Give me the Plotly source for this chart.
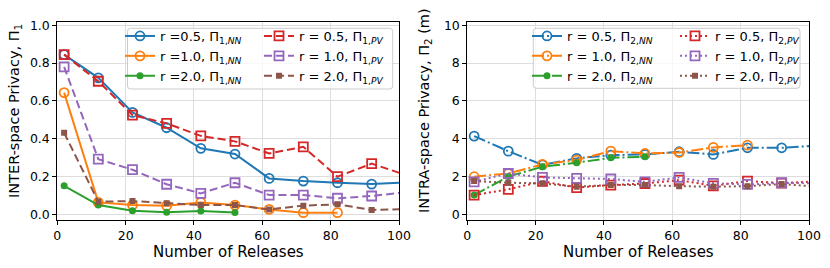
import plotly.graph_objects as go

W, H = 830, 268

# ---------------- data ----------------
releases = [2, 12, 22, 32, 42, 52, 62, 72, 82, 92, 102]

inter_nn_05 = [0.845, 0.722, 0.539, 0.458, 0.349, 0.319, 0.190, 0.176, 0.167, 0.160, 0.169]
inter_nn_10 = [0.644, 0.063, 0.049, 0.046, 0.063, 0.049, 0.026, 0.009, 0.009]
inter_nn_20 = [0.151, 0.049, 0.019, 0.011, 0.017, 0.010]
inter_pv_05 = [0.845, 0.704, 0.525, 0.481, 0.415, 0.386, 0.322, 0.357, 0.199, 0.268, 0.208]
inter_pv_10 = [0.780, 0.292, 0.236, 0.159, 0.111, 0.167, 0.102, 0.102, 0.085, 0.097, 0.117]
inter_pv_20 = [0.431, 0.067, 0.070, 0.058, 0.049, 0.049, 0.026, 0.046, 0.053, 0.023, 0.028]

intra_nn_05 = [4.14, 3.34, 2.62, 2.96, 3.13, 3.17, 3.31, 3.17, 3.52, 3.52, 3.63]
intra_nn_10 = [1.99, 2.16, 2.64, 2.87, 3.34, 3.22, 3.27, 3.54, 3.66]
intra_nn_20 = [1.02, 2.00, 2.52, 2.73, 2.99, 3.04]
intra_pv_05 = [1.02, 1.32, 1.75, 1.41, 1.55, 1.63, 1.81, 1.51, 1.76, 1.65, 1.74]
intra_pv_10 = [1.72, 2.16, 1.95, 1.90, 1.87, 1.72, 1.95, 1.64, 1.58, 1.67, 1.64]
intra_pv_20 = [1.76, 1.67, 1.64, 1.46, 1.55, 1.55, 1.49, 1.46, 1.49, 1.60, 1.47]

x_ticks = [0, 20, 40, 60, 80, 100]
inter_ticks = [0.0, 0.2, 0.4, 0.6, 0.8, 1.0]
intra_ticks = [0, 2, 4, 6, 8, 10]

labels_inter_nn = ["r =0.5, Π<sub>1,<i>NN</i></sub>", "r =1.0, Π<sub>1,<i>NN</i></sub>", "r =2.0, Π<sub>1,<i>NN</i></sub>"]
labels_inter_pv = ["r = 0.5, Π<sub>1,<i>PV</i></sub>", "r = 1.0, Π<sub>1,<i>PV</i></sub>", "r = 2.0, Π<sub>1,<i>PV</i></sub>"]
labels_intra_nn = ["r = 0.5, Π<sub>2,<i>NN</i></sub>", "r = 1.0, Π<sub>2,<i>NN</i></sub>", "r = 2.0, Π<sub>2,<i>NN</i></sub>"]
labels_intra_pv = ["r = 0.5, Π<sub>2,<i>PV</i></sub>", "r = 1.0, Π<sub>2,<i>PV</i></sub>", "r = 2.0, Π<sub>2,<i>PV</i></sub>"]

BLUE, ORANGE, GREEN = "#1f77b4", "#ff7f0e", "#2ca02c"
RED, PURPLE, BROWN = "#d62728", "#9467bd", "#8c564b"

FONT = "DejaVu Sans"


def px_x(p):
    return p / W


def px_y(p):
    return 1 - p / H


fig = go.Figure()

open_circle = dict(symbol="circle-open", size=9, line=dict(width=1.8))
dot = dict(symbol="circle", size=7)
open_sq = dict(symbol="square-open", size=9, line=dict(width=1.8))
fill_sq = dict(symbol="square", size=6)


def add(x, y, name, color, dash, marker, xa, ya, legend):
    m = dict(marker)
    m["color"] = color
    if "line" in m:
        m["line"] = dict(m["line"], color=color)
    fig.add_trace(go.Scatter(
        x=x[:len(y)], y=y, name=name, mode="lines+markers",
        line=dict(color=color, width=2, dash=dash), marker=m,
        xaxis=xa, yaxis=ya, legend=legend))


SOLID, DASH = "solid", "8px,4px"
DASHDOT, DOT = "12px,3px,2px,3px", "2px,3px"

add(releases, inter_nn_05, labels_inter_nn[0], BLUE, SOLID, open_circle, "x", "y", "legend")
add(releases, inter_nn_10, labels_inter_nn[1], ORANGE, SOLID, open_circle, "x", "y", "legend")
add(releases, inter_nn_20, labels_inter_nn[2], GREEN, SOLID, dot, "x", "y", "legend")
add(releases, inter_pv_05, labels_inter_pv[0], RED, DASH, open_sq, "x", "y", "legend2")
add(releases, inter_pv_10, labels_inter_pv[1], PURPLE, DASH, open_sq, "x", "y", "legend2")
add(releases, inter_pv_20, labels_inter_pv[2], BROWN, DASH, fill_sq, "x", "y", "legend2")

add(releases, intra_nn_05, labels_intra_nn[0], BLUE, DASHDOT, open_circle, "x2", "y2", "legend3")
add(releases, intra_nn_10, labels_intra_nn[1], ORANGE, DASHDOT, open_circle, "x2", "y2", "legend3")
add(releases, intra_nn_20, labels_intra_nn[2], GREEN, DASHDOT, dot, "x2", "y2", "legend3")
add(releases, intra_pv_05, labels_intra_pv[0], RED, DOT, open_sq, "x2", "y2", "legend4")
add(releases, intra_pv_10, labels_intra_pv[1], PURPLE, DOT, open_sq, "x2", "y2", "legend4")
add(releases, intra_pv_20, labels_intra_pv[2], BROWN, DOT, fill_sq, "x2", "y2", "legend4")

ax_common = dict(showline=True, mirror=True, linecolor="black", linewidth=1,
                 ticks="outside", ticklen=4, tickcolor="black", tickwidth=1,
                 showgrid=True, gridcolor="#dddddd", gridwidth=1, zeroline=False,
                 automargin=False,
                 tickfont=dict(family=FONT, size=12.5, color="black"))

top_px, bot_px = 21.7, 220.0
ydom = [px_y(bot_px), px_y(top_px)]

fig.update_layout(
    width=W, height=H, margin=dict(l=0, r=0, t=0, b=0, pad=0, autoexpand=False),
    paper_bgcolor="white", plot_bgcolor="white",
    font=dict(family=FONT, color="black"),
    xaxis=dict(domain=[px_x(57.3), px_x(399.0)], range=[0, 100], tickvals=x_ticks, anchor="y", **ax_common),
    yaxis=dict(domain=ydom, range=[-0.030, 1.019], tickvals=inter_ticks, tickformat=".1f", anchor="x", **ax_common),
    xaxis2=dict(domain=[px_x(467.3), px_x(809.0)], range=[0, 100], tickvals=x_ticks, anchor="y2", **ax_common),
    yaxis2=dict(domain=ydom, range=[-0.30, 10.19], tickvals=intra_ticks, anchor="x2", **ax_common),
    showlegend=True,
)

leg_common = dict(bgcolor="rgba(0,0,0,0)", borderwidth=0, orientation="v",
                  font=dict(family=FONT, size=13, color="black"),
                  xanchor="left", yanchor="top", itemclick=False, tracegroupgap=0)
LEG_TOP = 21
fig.update_layout(
    legend=dict(x=px_x(120), y=px_y(LEG_TOP), **leg_common),
    legend2=dict(x=px_x(259), y=px_y(LEG_TOP), **leg_common),
    legend3=dict(x=px_x(527), y=px_y(LEG_TOP), **leg_common),
    legend4=dict(x=px_x(675), y=px_y(LEG_TOP), **leg_common),
)


def rounded_box(x0, y0, x1, y1, r=3):
    # pixel coords, y downward
    X = lambda v: px_x(v)
    Y = lambda v: px_y(v)
    return (f"M{X(x0+r)},{Y(y0)} L{X(x1-r)},{Y(y0)} Q{X(x1)},{Y(y0)} {X(x1)},{Y(y0+r)} "
            f"L{X(x1)},{Y(y1-r)} Q{X(x1)},{Y(y1)} {X(x1-r)},{Y(y1)} "
            f"L{X(x0+r)},{Y(y1)} Q{X(x0)},{Y(y1)} {X(x0)},{Y(y1-r)} "
            f"L{X(x0)},{Y(y0+r)} Q{X(x0)},{Y(y0)} {X(x0+r)},{Y(y0)} Z")


for (bx0, by0, bx1, by1) in [(127.5, 28.3, 392.7, 89.0), (533.3, 28.3, 800.0, 88.3)]:
    fig.add_shape(type="path", xref="paper", yref="paper", layer="above",
                  path=rounded_box(bx0, by0, bx1, by1),
                  fillcolor="rgba(255,255,255,0.8)", line=dict(color="#cccccc", width=1))

# axis titles
title_font = dict(family=FONT, size=15, color="black")
for cx in (228, 638):
    fig.add_annotation(x=px_x(cx), y=px_y(252), xref="paper", yref="paper", showarrow=False,
                       xanchor="center", yanchor="middle",
                       text="Number of Releases", font=title_font)
fig.add_annotation(x=px_x(15), y=px_y(111), xref="paper", yref="paper", showarrow=False, textangle=-90,
                   xanchor="center", yanchor="middle",
                   text="INTER-space Privacy, Π<sub>1</sub>", font=dict(family=FONT, size=14.5, color="black"))
fig.add_annotation(x=px_x(425), y=px_y(111), xref="paper", yref="paper", showarrow=False, textangle=-90,
                   xanchor="center", yanchor="middle",
                   text="INTRA-space Privacy, Π<sub>2</sub> (m)", font=dict(family=FONT, size=14.5, color="black"))

fig.write_html("out.html", config={"displayModeBar": False},
               post_script="document.body.style.margin='0';document.body.style.overflow='hidden';")
